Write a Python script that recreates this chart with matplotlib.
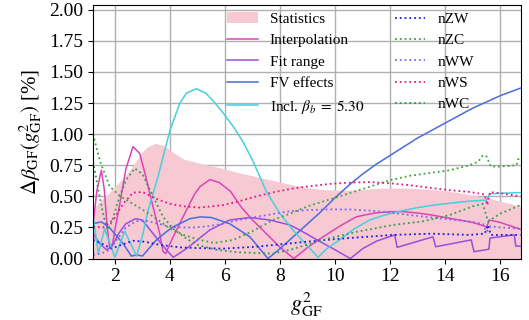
import numpy as np
import matplotlib
matplotlib.use("Agg")
import matplotlib.pyplot as plt

plt.rcParams['font.family'] = ['Liberation Serif', 'DejaVu Serif']
plt.rcParams['mathtext.fontset'] = 'stix'

# statistical band (upper edge)
stat_x = [1.21, 1.5, 1.8, 2.1, 2.4, 2.7, 3.0, 3.2, 3.45, 3.7, 3.9, 4.2, 4.5, 5.0, 5.5, 6.0, 6.5, 7.0,
          7.5, 8.0, 8.5, 9.0, 9.5, 10.0, 10.5, 11.0, 11.5, 12.0, 12.5, 13.0, 13.5, 14.0, 14.5, 15.0,
          15.5, 16.0, 16.4, 16.73]
stat_y = [0.40, 0.47, 0.53, 0.60, 0.67, 0.76, 0.86, 0.90, 0.925, 0.915, 0.89, 0.84, 0.80, 0.77, 0.745,
          0.72, 0.69, 0.665, 0.64, 0.615, 0.59, 0.57, 0.555, 0.55, 0.55, 0.555, 0.565, 0.567, 0.567,
          0.562, 0.555, 0.545, 0.53, 0.51, 0.49, 0.46, 0.44, 0.42]

interp_x = [1.21, 1.35, 1.51, 1.62, 1.72, 1.81, 1.92, 2.0, 2.18, 2.4, 2.66, 2.9, 3.1, 3.27, 3.45, 3.63,
            3.75, 3.85, 4.0, 4.24, 4.6, 4.9, 5.1, 5.45, 5.8, 6.2, 6.6, 7.0, 7.5, 8.0, 8.5, 9.0, 9.56,
            10.2, 10.77, 11.4, 12.0, 12.5, 13.0, 13.5, 14.0, 14.5, 15.0, 15.5, 15.6, 16.0, 16.73]
interp_y = [0.28, 0.55, 0.71, 0.55, 0.25, 0.09, 0.12, 0.23, 0.44, 0.72, 0.90, 0.845, 0.68, 0.52, 0.36,
            0.20, 0.055, 0.04, 0.12, 0.23, 0.39, 0.52, 0.58, 0.635, 0.61, 0.54, 0.41, 0.31, 0.20, 0.09,
            0.0, 0.09, 0.175, 0.265, 0.336, 0.365, 0.377, 0.377, 0.366, 0.35, 0.33, 0.31, 0.29, 0.255,
            0.31, 0.29, 0.235]

fit_x = [1.21, 1.45, 1.7, 1.9, 2.1, 2.4, 2.75, 3.0, 3.39, 3.87, 4.12, 4.4, 4.72, 5.45, 6.17, 6.9, 7.62,
         8.35, 8.71, 9.5, 10.0, 10.55, 11.0, 11.5, 12.16, 12.25, 13.55, 13.65, 14.94, 15.04, 15.58,
         15.62, 16.5, 16.56, 16.73]
fit_y = [0.20, 0.12, 0.07, 0.10, 0.19, 0.28, 0.32, 0.31, 0.20, 0.07, 0.01, 0.05, 0.10, 0.23, 0.31, 0.33,
         0.31, 0.27, 0.23, 0.13, 0.07, 0.0, 0.08, 0.14, 0.19, 0.09, 0.175, 0.095, 0.15, 0.055, 0.075,
         0.165, 0.19, 0.10, 0.10]

fv_x = [1.21, 1.51, 1.8, 2.3, 2.6, 2.8, 3.0, 3.51, 3.87, 4.12, 4.72, 5.1, 5.5, 6.17, 6.9, 7.56, 8.0, 8.5,
        9.0, 9.5, 10.0, 10.5, 11.0, 11.5, 12.0, 12.5, 13.0, 13.5, 14.0, 14.5, 15.0, 15.5, 16.0, 16.73]
fv_y = [0.28, 0.295, 0.25, 0.12, 0.02, 0.03, 0.02, 0.15, 0.215, 0.255, 0.32, 0.335, 0.33, 0.28, 0.175,
        0.0, 0.08, 0.18, 0.28, 0.38, 0.49, 0.59, 0.68, 0.76, 0.83, 0.90, 0.97, 1.03, 1.09, 1.15, 1.21,
        1.26, 1.31, 1.37]

beta_x = [1.21, 1.4, 1.63, 2.0, 2.36, 2.79, 3.0, 3.21, 3.57, 3.8, 4.0, 4.36, 4.6, 4.96, 5.3, 5.6, 5.93,
          6.3, 6.65, 7.0, 7.5, 8.0, 8.5, 9.0, 9.38, 9.7, 10.16, 10.7, 11.25, 11.8, 12.34, 13.0, 13.6,
          14.16, 14.8, 15.5, 15.62, 16.0, 16.73]
beta_y = [0.34, 0.04, 0.24, 0.01, 0.22, 0.02, 0.18, 0.39, 0.66, 0.86, 1.03, 1.25, 1.33, 1.365, 1.33,
          1.26, 1.17, 1.06, 0.94, 0.79, 0.54, 0.36, 0.22, 0.10, 0.01, 0.08, 0.15, 0.24, 0.31, 0.35, 0.38,
          0.41, 0.43, 0.445, 0.46, 0.47, 0.52, 0.525, 0.53]

nzw_x = [1.21, 1.57, 1.88, 2.24, 2.66, 3.09, 3.63, 4.36, 4.9, 5.93, 7.14, 8.71, 9.68, 10.5, 12.1, 13.5,
         14.88, 15.43, 15.55, 15.65, 16.0, 16.73]
nzw_y = [0.15, 0.115, 0.08, 0.11, 0.143, 0.135, 0.11, 0.09, 0.085, 0.08, 0.095, 0.13, 0.15, 0.165, 0.19,
         0.20, 0.19, 0.20, 0.27, 0.19, 0.19, 0.19]

nzc_x = [1.21, 1.45, 1.81, 2.2, 2.66, 3.1, 3.51, 4.0, 4.5, 5.08, 5.6, 6.3, 7.0, 7.74, 8.35, 9.0, 10.16,
         11.0, 11.98, 12.7, 13.5, 14.16, 14.88, 15.2, 15.36, 15.5, 15.65, 16.0, 16.58, 16.65, 16.73]
nzc_y = [1.0, 0.79, 0.58, 0.50, 0.44, 0.38, 0.32, 0.24, 0.19, 0.15, 0.125, 0.15, 0.22, 0.31, 0.36, 0.42,
         0.50, 0.56, 0.63, 0.665, 0.69, 0.71, 0.75, 0.78, 0.83, 0.82, 0.74, 0.74, 0.75, 0.80, 0.81]

nww_x = [1.21, 1.5, 1.81, 2.1, 2.4, 2.78, 3.1, 3.4, 4.0, 4.5, 4.9, 5.4, 5.93, 6.5, 7.14, 7.8, 8.35, 9.0,
         9.8, 10.5, 11.25, 12.0, 12.7, 13.5, 14.16, 14.8, 15.36, 15.5, 15.65, 16.0, 16.73]
nww_y = [0.03, 0.04, 0.07, 0.16, 0.25, 0.30, 0.305, 0.29, 0.255, 0.25, 0.25, 0.26, 0.28, 0.31, 0.335,
         0.36, 0.38, 0.39, 0.395, 0.395, 0.385, 0.37, 0.35, 0.33, 0.315, 0.30, 0.28, 0.215, 0.26, 0.25,
         0.24]

nws_x = [1.21, 1.57, 1.94, 2.3, 2.66, 3.0, 3.5, 4.0, 4.5, 5.08, 5.93, 6.5, 7.14, 7.8, 8.5, 9.2, 9.8,
         10.5, 11.25, 12.0, 12.7, 13.4, 14.16, 14.9, 15.43, 15.52, 15.62, 16.0, 16.73]
nws_y = [0.255, 0.25, 0.31, 0.44, 0.53, 0.535, 0.48, 0.44, 0.42, 0.41, 0.43, 0.46, 0.50, 0.535, 0.565,
         0.585, 0.60, 0.61, 0.615, 0.605, 0.59, 0.57, 0.55, 0.535, 0.515, 0.43, 0.535, 0.525, 0.50]

nwc_x = [1.21, 1.4, 1.6, 1.75, 1.9, 2.1, 2.4, 2.72, 3.0, 3.39, 3.75, 4.12, 4.6, 5.0, 5.7, 6.5, 7.74,
         8.35, 9.56, 10.77, 12.1, 13.2, 14.16, 15.0, 15.36, 15.55, 15.7, 15.98, 16.73]
nwc_y = [0.78, 0.55, 0.33, 0.23, 0.30, 0.45, 0.63, 0.725, 0.68, 0.50, 0.335, 0.24, 0.16, 0.11, 0.07,
         0.05, 0.04, 0.07, 0.15, 0.215, 0.27, 0.30, 0.35, 0.42, 0.44, 0.30, 0.32, 0.36, 0.43]

fig, ax = plt.subplots(figsize=(5.29, 3.2), dpi=100)
fig.subplots_adjust(left=0.176, right=0.984, top=0.985, bottom=0.192)

ax.fill_between(stat_x, 0, stat_y, color='#f6c9d3', lw=0, label='Statistics')
ax.plot(interp_x, interp_y, color='#dc45b5', lw=1.1, label='Interpolation')
ax.plot(fit_x, fit_y, color='#9a4fdc', lw=1.1, label='Fit range')
ax.plot(fv_x, fv_y, color='#4a6be0', lw=1.1, label='FV effects')
ax.plot(beta_x, beta_y, color='#45d0dc', lw=1.1, label=r'Incl. $\beta_b\;=\;5.30$')
ax.plot(nzw_x, nzw_y, ':', color='#1a1aee', lw=1.3, label='nZW')
ax.plot(nzc_x, nzc_y, ':', color='#3aa53a', lw=1.3, label='nZC')
ax.plot(nww_x, nww_y, ':', color='#7b68ee', lw=1.3, label='nWW')
ax.plot(nws_x, nws_y, ':', color='#e8168c', lw=1.3, label='nWS')
ax.plot(nwc_x, nwc_y, ':', color='#2e9e4a', lw=1.3, label='nWC')

ax.set_xlim(1.21, 16.73)
ax.set_ylim(0, 2.04)
ax.set_xticks([2, 4, 6, 8, 10, 12, 14, 16])
ax.set_yticks(np.arange(0, 2.01, 0.25))
ax.yaxis.set_major_formatter(matplotlib.ticker.FormatStrFormatter('%.2f'))
ax.grid(True, color='#b0b0b0', lw=1.0)
ax.set_axisbelow(True)
ax.tick_params(labelsize=14)
ax.set_xlabel(r'$g^2_{\rm GF}$', fontsize=16)
ax.set_ylabel(r'$\Delta\beta_{\rm GF}(g^2_{\rm GF})$ [%]', fontsize=15)

ax.legend(ncol=2, frameon=False, fontsize=11, loc='upper left', bbox_to_anchor=(0.281, 1.024),
          labelspacing=0.5, handlelength=2.0, columnspacing=2.0)

fig.savefig('out.png', dpi=100)
